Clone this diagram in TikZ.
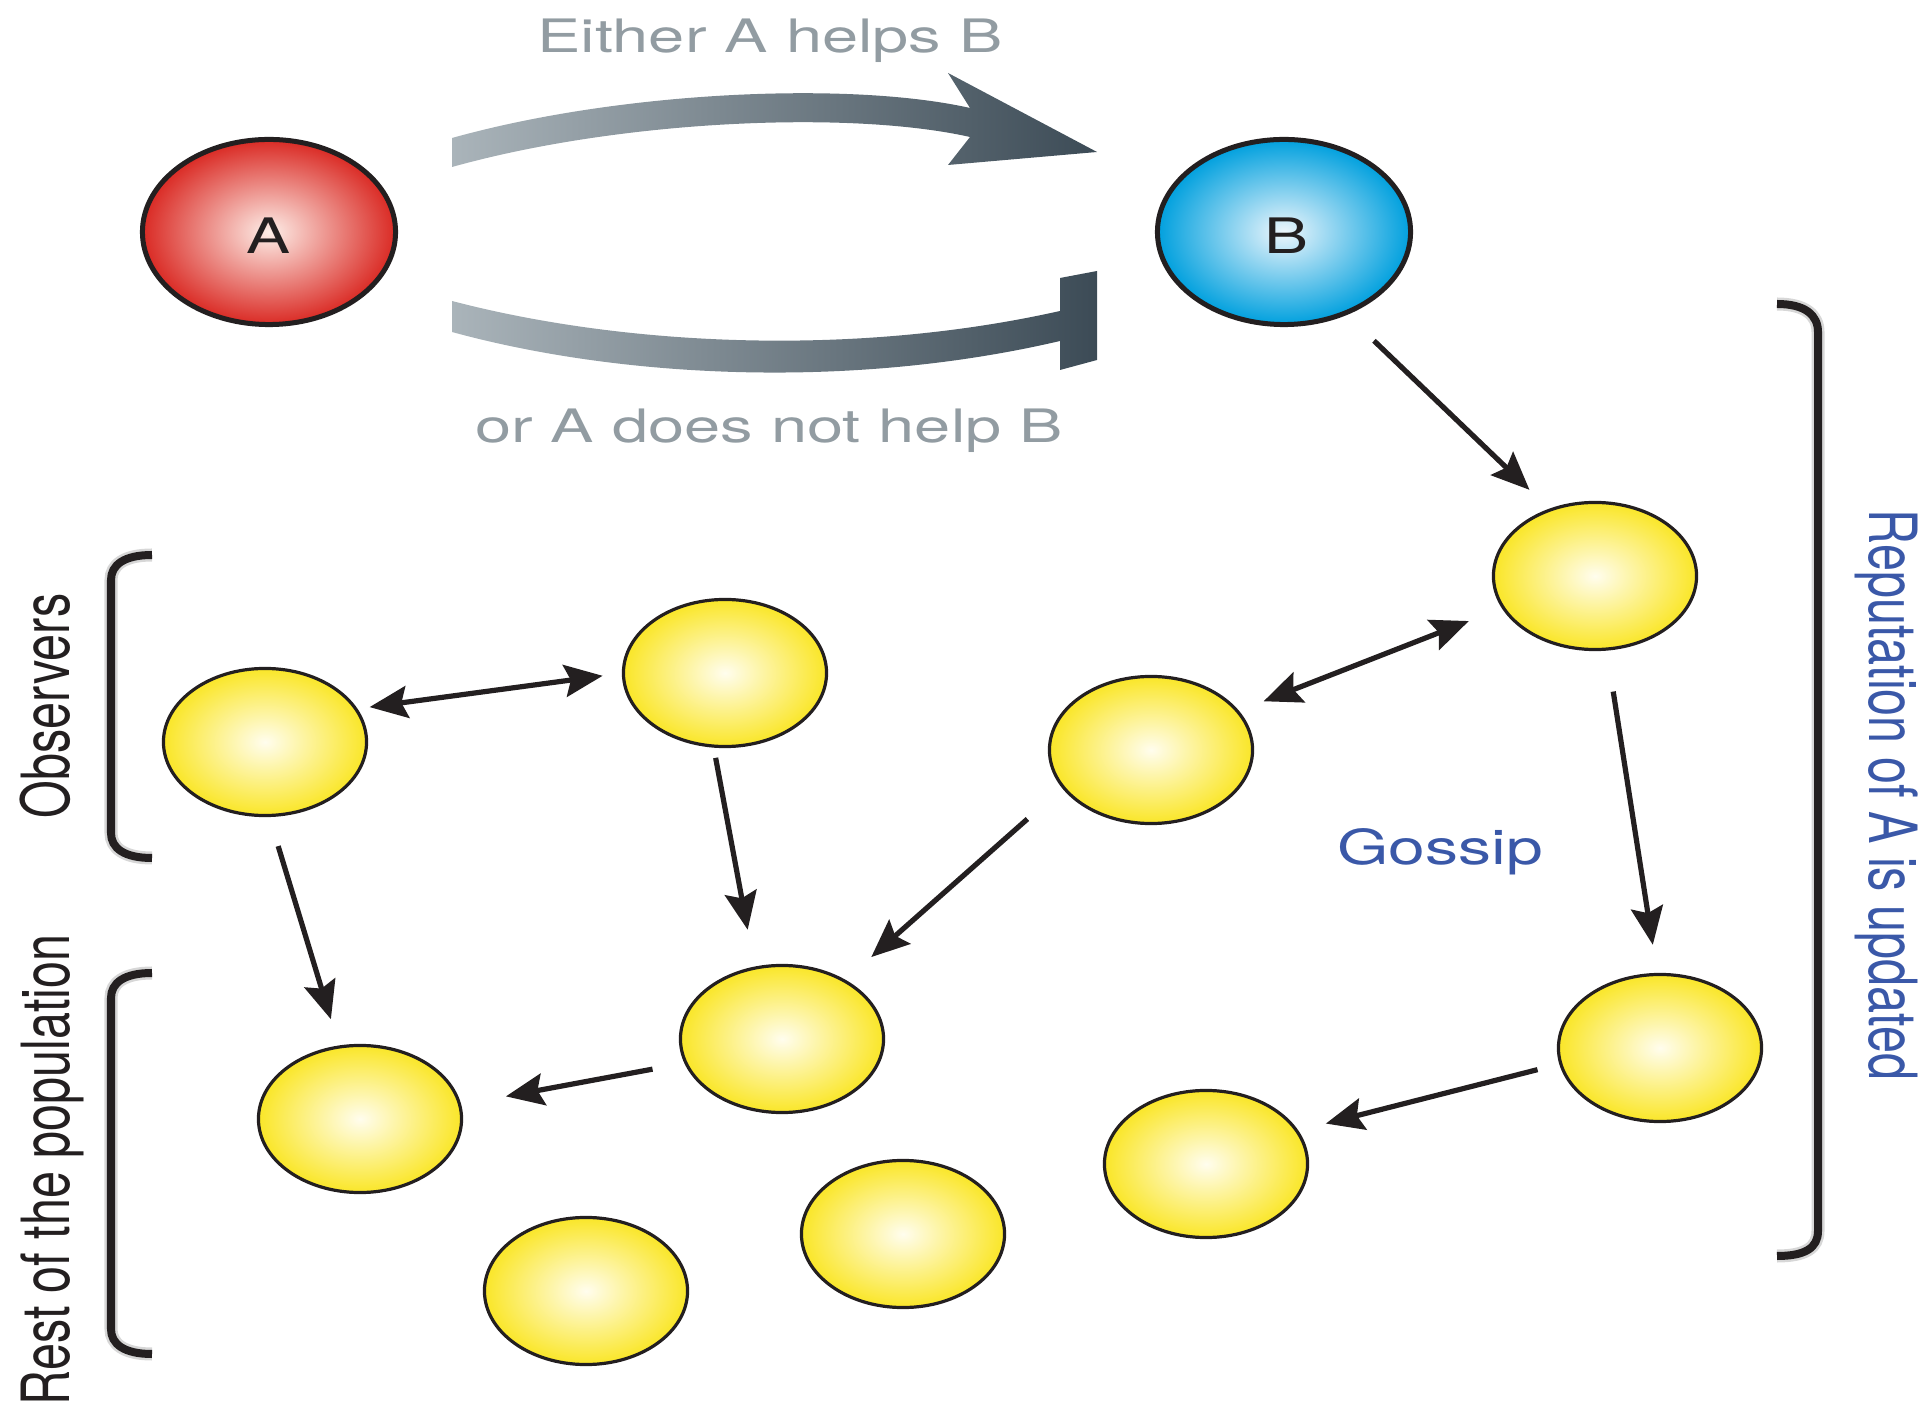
\documentclass[tikz,border=0pt]{standalone}
\usepackage{fontspec}
\setmainfont{TeX Gyre Heros}
\usepackage{graphicx}
\usetikzlibrary{arrows.meta,shapes.geometric}
\definecolor{yelout}{RGB}{250,230,40}
\definecolor{yelin}{RGB}{255,253,238}
\definecolor{redout}{RGB}{218,42,36}
\definecolor{redin}{RGB}{253,238,232}
\definecolor{bluout}{RGB}{0,160,222}
\definecolor{bluin}{RGB}{238,246,252}
\definecolor{bandL}{RGB}{170,180,186}
\definecolor{bandR}{RGB}{60,75,86}
\definecolor{greytxt}{RGB}{146,156,162}
\definecolor{bluetxt}{RGB}{58,88,168}
\definecolor{brkcol}{RGB}{35,31,32}
\definecolor{halocol}{RGB}{215,215,215}
\begin{document}
\begin{tikzpicture}[x=0.01cm,y=-0.01cm,
  ball/.style={ellipse, draw=brkcol, inner sep=0pt, outer sep=0pt},
  yel/.style={ball, line width=0.032cm, inner color=yelin, outer color=yelout,
    minimum width=2.03cm, minimum height=1.47cm},
  redball/.style={ball, line width=0.05cm, inner color=redin, outer color=redout,
    minimum width=2.53cm, minimum height=1.85cm},
  bluball/.style={ball, line width=0.05cm, inner color=bluin, outer color=bluout,
    minimum width=2.53cm, minimum height=1.85cm},
  balltxt/.style={font=\fontsize{13.9pt}{16pt}\selectfont, text=brkcol},
  tip/.tip={Stealth[length=0.38cm,width=0.32cm,inset=0.06cm]},
  arr/.style={-tip, line width=0.052cm, draw=brkcol},
  darr/.style={tip-tip, line width=0.052cm, draw=brkcol},
  greylbl/.style={inner sep=0pt, anchor=base, text=greytxt, font=\fontsize{13.1pt}{15pt}\selectfont},
  bluelbl/.style={inner sep=0pt, anchor=base, text=bluetxt, font=\fontsize{13.7pt}{16pt}\selectfont},
  sidelbl/.style={inner sep=0pt, anchor=base, text=brkcol, font=\fontsize{13.8pt}{16pt}\selectfont},
  brk/.style={line width=0.08cm, draw=brkcol},
  brkhalo/.style={line width=0.13cm, draw=halocol}
]
\useasboundingbox (0,0) rectangle (1930,1410);

% gradient arrows A -> B
\shade[left color=bandL, right color=bandR]
  (452,138) .. controls (620,91) and (850,81) .. (970,108)
  -- (948,73) -- (1097,152) -- (948,165) -- (970,137)
  .. controls (850,110) and (620,120) .. (452,167) -- cycle;
\shade[left color=bandL, right color=bandR]
  (452,301) .. controls (620,345) and (850,358) .. (1060,311)
  -- (1060,278) -- (1097,271) -- (1097,360) -- (1060,370) -- (1060,341)
  .. controls (850,390) and (620,378) .. (452,332) -- cycle;

\node[greylbl] (help) at (770,53) {\scalebox{1.41}[1]{Either A helps B}};
\node[greylbl] (nohelp) at (769,443) {\scalebox{1.41}[1]{or A does not help B}};

% A and B
\node[redball] (A) at (269,232) {};
\node[balltxt] (Atxt) at (269,236) {\scalebox{1.35}[1]{A}};
\node[bluball] (B) at (1284,232) {};
\node[balltxt] (Btxt) at (1286,236) {\scalebox{1.35}[1]{B}};

% population
\node[yel] (Y1) at (1595,576) {};
\node[yel] (Y2) at (1151,750) {};
\node[yel] (Y3) at (725,673) {};
\node[yel] (Y4) at (265,742) {};
\node[yel] (Y5) at (782,1039) {};
\node[yel] (Y6) at (360,1119) {};
\node[yel] (Y7) at (1660,1048) {};
\node[yel] (Y8) at (1206,1164) {};
\node[yel] (Y9) at (903,1234) {};
\node[yel] (Y10) at (586,1291) {};

% connectors
\draw[arr, shorten <=0.40cm, shorten >=0.29cm] (B.-53) -- (Y1.124);
\draw[darr, shorten <=0.37cm, shorten >=0.28cm] (Y1.199) -- (Y2.24);
\draw[darr, shorten <=0.21cm, shorten >=0.14cm] (Y3.180) -- (Y4.20);
\draw[arr, shorten <=0.12cm, shorten >=0.39cm] (Y3.-99) -- (Y5.111);
\draw[arr, shorten <=0.32cm, shorten >=0.29cm] (Y4.-87) -- (Y6.106);
\draw[arr, shorten <=0.48cm, shorten >=0.36cm] (Y2.-157) -- (Y5.43);
\draw[arr, shorten <=0.43cm, shorten >=0.30cm] (Y1.-81) -- (Y7.92);
\draw[arr, shorten <=0.34cm, shorten >=0.47cm] (Y5.-166) -- (Y6.8);
\draw[arr, shorten <=0.24cm, shorten >=0.30cm] (Y7.-171) -- (Y8.20);

\node[bluelbl] (gossip) at (1440,865) {\scalebox{1.37}[1]{Gossip}};

% brackets
\foreach \st in {brkhalo, brk}{
  \draw[\st] (1777,304) .. controls (1805,304) and (1818,315) .. (1818,332)
    -- (1818,1231) .. controls (1818,1248) and (1805,1256) .. (1777,1256);
  \draw[\st] (152,555) .. controls (124,555) and (111,565) .. (111,580)
    -- (111,833) .. controls (111,848) and (124,858) .. (152,858);
  \draw[\st] (152,973) .. controls (124,973) and (111,983) .. (111,998)
    -- (111,1329) .. controls (111,1344) and (124,1354) .. (152,1354);
}

\node[bluelbl, font=\fontsize{13.8pt}{16pt}\selectfont, rotate=-90] (rep) at (1869,795)
  {\scalebox{1}[1.37]{Reputation of A is updated}};
\node[sidelbl, rotate=90] (obs) at (70,706) {\scalebox{1}[1.37]{Observers}};
\node[sidelbl, rotate=90] (rest) at (70,1170) {\scalebox{1}[1.37]{Rest of the population}};
\end{tikzpicture}
\end{document}
